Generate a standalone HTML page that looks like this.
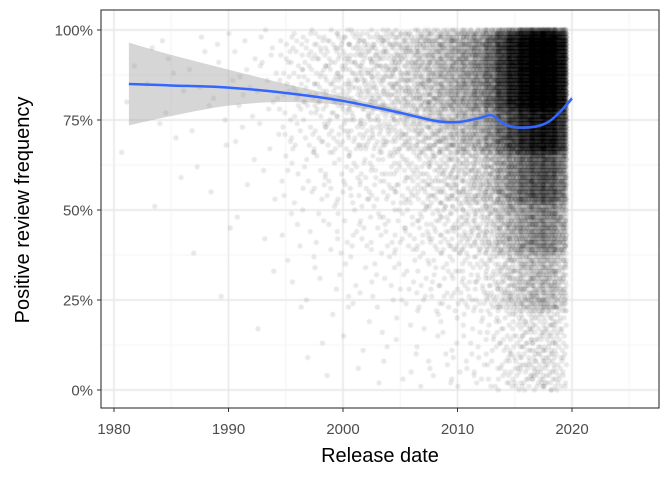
<!DOCTYPE html>
<html><head><meta charset="utf-8"><style>
body{margin:0;background:#fff;}
svg text{font-family:"Liberation Sans",sans-serif;}
#wrap{position:relative;width:672px;height:480px;}
canvas{position:absolute;left:0;top:0;}
svg{position:absolute;left:0;top:0;}
</style></head><body>
<div id="wrap">
<canvas id="pts" width="672" height="480"></canvas>
<svg id="chart" width="672" height="480"></svg>
</div>
<script>
// ---- data ----
const years = [1981,1983,1985,1987,1989,1991,1993,1995,1996,1997,1998,1999,2000,2001,2002,2003,2004,2005,2006,2007,2008,2009,2010,2011,2012,2013,2014,2015,2016,2017,2018,2019];
const yearCounts = [3,5,6,8,10,14,20,26,32,40,48,55,70,80,90,100,115,135,160,200,240,290,350,420,520,750,1200,1700,2300,2700,2800,2000];
// quantile table of review frequency (share of games -> positive %)
const quantileShare = [0,0.04,0.3,0.55,0.75,0.87,0.94,0.98,1];
const quantileValue = [100,98,88,78,66,52,38,22,0];
const smoothYears = [1981.3,1985,1990,1995,2000,2005,2008,2010,2012,2013,2014,2015,2016,2017,2018,2019,2020];
const smoothValues = [85,84.6,84,82.5,80.3,77,74.8,74.4,75.6,76.3,74,73,72.9,73.3,74.6,77.4,81];
const ribbonHalf = [11.5,8.5,5,2.5,1.2,0.8,0.7,0.6,0.6,0.6,0.5,0.4,0.4,0.4,0.4,0.5,0.8];
const xTicks = [1980,1990,2000,2010,2020];
const xMinor = [1985,1995,2005,2015,2025];
const yTicks = [0,25,50,75,100];
const yTickLabels = ["0%","25%","50%","75%","100%"];
const yMinor = [12.5,37.5,62.5,87.5];

const L=101,R=659,T=10,B=408;
const xs = y => 114 + (y-1980)*(572-114)/40;
const ys = v => 390 - v*3.6;
const NS="http://www.w3.org/2000/svg";
const svg=document.getElementById('chart');
function mk(tag,attrs,parent){const e=document.createElementNS(NS,tag);for(const k in attrs)e.setAttribute(k,attrs[k]);(parent||svg).appendChild(e);return e;}

const cv=document.getElementById('pts'),ctx=cv.getContext('2d');
ctx.fillStyle='#fff';ctx.fillRect(0,0,672,480);
ctx.strokeStyle='#f2f2f2';ctx.lineWidth=0.8;
xMinor.forEach(v=>{ctx.beginPath();ctx.moveTo(xs(v),T);ctx.lineTo(xs(v),B);ctx.stroke();});
yMinor.forEach(v=>{ctx.beginPath();ctx.moveTo(L,ys(v));ctx.lineTo(R,ys(v));ctx.stroke();});
ctx.strokeStyle='#e6e6e6';ctx.lineWidth=1.4;
xTicks.forEach(v=>{ctx.beginPath();ctx.moveTo(xs(v),T);ctx.lineTo(xs(v),B);ctx.stroke();});
yTicks.forEach(v=>{ctx.beginPath();ctx.moveTo(L,ys(v));ctx.lineTo(R,ys(v));ctx.stroke();});

function halton(i,b){let f=1,r=0;while(i>0){f/=b;r+=f*(i%b);i=Math.floor(i/b);}return r;}
function quant(u){
  for(let j=1;j<quantileShare.length;j++){
    if(u<=quantileShare[j]){const t=(u-quantileShare[j-1])/(quantileShare[j]-quantileShare[j-1]);return quantileValue[j-1]+t*(quantileValue[j]-quantileValue[j-1]);}
  }
  return quantileValue[quantileValue.length-1];
}
ctx.fillStyle='rgba(0,0,0,0.085)';ctx.strokeStyle='rgba(0,0,0,0.06)';ctx.lineWidth=0.6;
let idx=1;
years.forEach((yr,k)=>{
  const n=yearCounts[k];
  const w = yr<1995?2:1.1;
  for(let i=0;i<n;i++,idx++){
    const u=halton(idx,2),w2=halton(idx,3);
    const x=yr-0.55+w*w2;
    let v=Math.max(0,Math.min(100,Math.round(quant(u))));
    const px=Math.min(xs(x),xs(2019.5));
    ctx.beginPath();ctx.arc(px,ys(v),2.4,0,Math.PI*2);ctx.fill();ctx.stroke();
  }
});

function smoothPath(pts){
  let d='M'+pts[0][0]+','+pts[0][1];
  for(let i=0;i<pts.length-1;i++){
    const p0=pts[Math.max(0,i-1)],p1=pts[i],p2=pts[i+1],p3=pts[Math.min(pts.length-1,i+2)];
    d+='C'+(p1[0]+(p2[0]-p0[0])/6)+','+(p1[1]+(p2[1]-p0[1])/6)+' '+(p2[0]-(p3[0]-p1[0])/6)+','+(p2[1]-(p3[1]-p1[1])/6)+' '+p2[0]+','+p2[1];
  }
  return d;
}
const upper=smoothYears.map((y,i)=>[xs(y),ys(smoothValues[i]+ribbonHalf[i])]);
const lower=smoothYears.map((y,i)=>[xs(y),ys(smoothValues[i]-ribbonHalf[i])]).reverse();
const rib=mk('path',{d:smoothPath(upper)+smoothPath(lower).replace('M','L')+'Z',fill:'rgba(153,153,153,0.4)'});


const line=mk('path',{d:smoothPath(smoothYears.map((y,i)=>[xs(y),ys(smoothValues[i])])),fill:'none',stroke:'#3366FF','stroke-width':2.5,'stroke-linejoin':'round'});



const border=mk('rect',{x:L,y:T,width:R-L,height:B-T,fill:'none',stroke:'#333','stroke-width':1.1});



xTicks.forEach(v=>{
  mk('line',{x1:xs(v),x2:xs(v),y1:B,y2:B+4,stroke:'#333'});
  const t=mk('text',{x:xs(v),y:434,'text-anchor':'middle','font-size':15,fill:'#4d4d4d'});
  t.textContent=v;
  
  
});
yTicks.forEach((v,i)=>{
  mk('line',{x1:L-4,x2:L,y1:ys(v),y2:ys(v),stroke:'#333'});
  const t=mk('text',{x:93,y:ys(v)+5.5,'text-anchor':'end','font-size':15,fill:'#4d4d4d'});
  t.textContent=yTickLabels[i];
  
  
});
const xt=mk('text',{x:380,y:462,'text-anchor':'middle','font-size':20,fill:'#000'});
xt.textContent='Release date';


const yt=mk('text',{x:0,y:0,'text-anchor':'middle','font-size':20,fill:'#000',transform:'translate(29,210) rotate(-90)'});
yt.textContent='Positive review frequency';


</script>
</body></html>
